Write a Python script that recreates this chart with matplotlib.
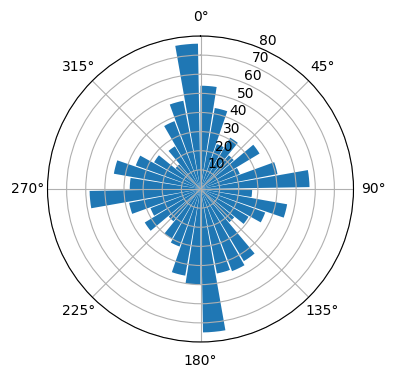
import numpy as np
import matplotlib
matplotlib.use("Agg")
import matplotlib.pyplot as plt

# bar start angles (degrees, clockwise from north) and lengths
angles_deg = list(range(0, 360, 10))
radii = [54, 43, 25, 31, 23, 36, 22, 41, 57,
         27, 46, 36, 29, 23, 44, 46, 45, 75,
         50, 46, 32, 30, 22, 34, 28, 38, 58,
         37, 46, 36, 28, 17, 26, 38, 47, 76]
bar_width_deg = 9

fig = plt.figure(figsize=(3.96, 3.80), dpi=100)
ax = fig.add_axes([47.5 / 396, 38 / 380, 306 / 396, 306 / 380], projection="polar")
ax.set_theta_zero_location("N")
ax.set_theta_direction(-1)

theta = np.deg2rad(angles_deg)
ax.bar(theta, radii, width=np.deg2rad(bar_width_deg), align="edge", color="C0")
ax.set_rmax(80)

fig.savefig("out.png", dpi=100)
